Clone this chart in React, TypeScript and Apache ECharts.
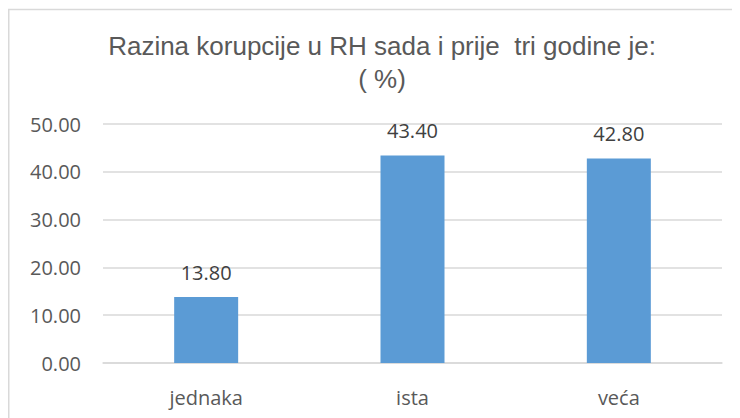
import React, { useEffect, useRef } from "react";
import * as echarts from "echarts";

const categories = ["jednaka", "ista", "veća"];
const values = [13.8, 43.4, 42.8];
const titleText = "Razina korupcije u RH sada i prije  tri godine je:\n( %)";
const yMin = 0;
const yMax = 50;
const yStep = 10;

export default function App() {
  const ref = useRef<HTMLDivElement>(null);
  useEffect(() => {
    if (!ref.current) return;
    const chart = echarts.init(ref.current, undefined, { renderer: "svg" });
    chart.setOption({
      animation: false,
      backgroundColor: "#ffffff",
      title: {
        text: titleText,
        left: 374,
        top: 21,
        padding: 0,
        textAlign: "center",
        textStyle: {
          fontFamily: "Liberation Sans",
          fontSize: 26,
          fontWeight: "normal",
          color: "#595959",
          lineHeight: 33,
        },
      },
      graphic: [
        {
          type: "rect",
          silent: true,
          shape: { x: 0.75, y: 1.5, width: 800, height: 800 },
          style: { fill: "none", stroke: "#d9d9d9", lineWidth: 1.5 },
        },
      ],
      grid: { left: 95, top: 116, width: 619, height: 239, containLabel: false },
      xAxis: {
        type: "category",
        data: categories,
        axisLine: { lineStyle: { color: "#d9d9d9", width: 1.5 } },
        axisTick: { show: false },
        axisLabel: {
          margin: 24,
          fontFamily: "Open Sans",
          fontSize: 20,
          color: "#595959",
        },
      },
      yAxis: {
        type: "value",
        min: yMin,
        max: yMax,
        interval: yStep,
        axisLine: { show: false },
        axisTick: { show: false },
        splitLine: { lineStyle: { color: "#d9d9d9", width: 1.5 } },
        axisLabel: {
          margin: 22,
          fontFamily: "Open Sans",
          fontSize: 20,
          color: "#595959",
          formatter: (v: number) => v.toFixed(2),
        },
      },
      series: [
        {
          type: "bar",
          data: values,
          barWidth: 64,
          itemStyle: { color: "#5b9bd5" },
          label: {
            show: true,
            position: "top",
            distance: 15,
            fontFamily: "Open Sans",
            fontSize: 20,
            color: "#404040",
            formatter: (p: any) => Number(p.value).toFixed(2),
          },
        },
      ],
    });
    return () => chart.dispose();
  }, []);
  return <div ref={ref} style={{ width: 740, height: 420 }} />;
}
